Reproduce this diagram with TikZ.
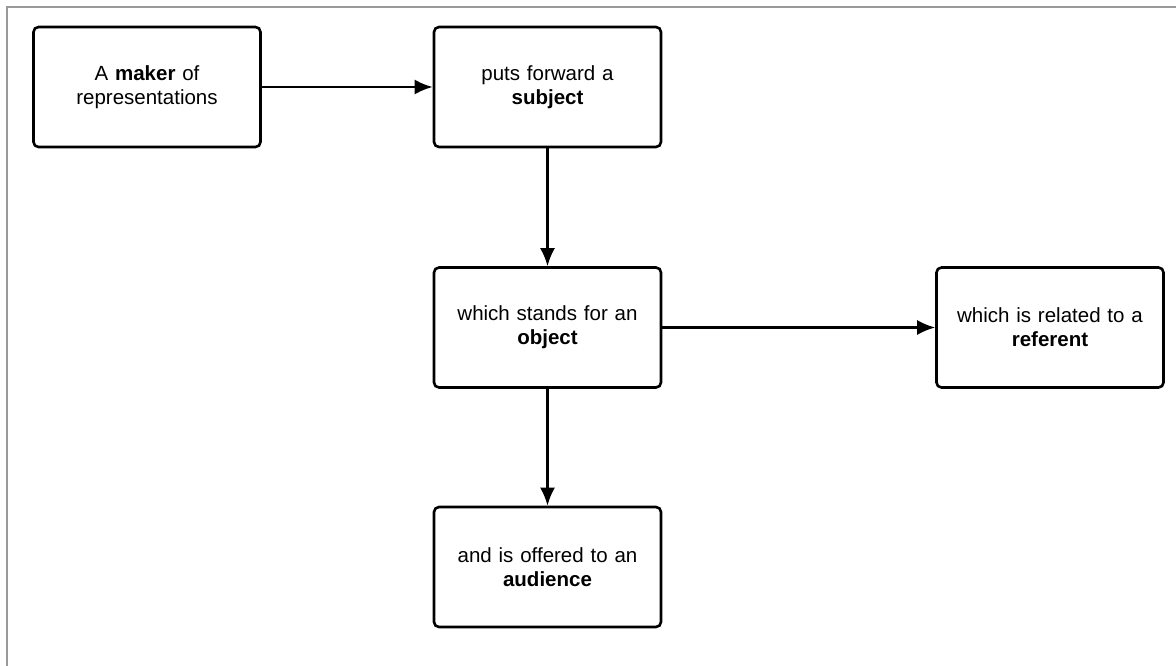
\documentclass[tikz,border=0pt]{standalone}
\usepackage{fontspec}
\setmainfont{Liberation Sans}
\usetikzlibrary{arrows.meta}
\tikzset{
  box/.style={draw,line width=2.6pt,rounded corners=5pt,minimum width=227pt,minimum height=120pt,
    align=center,text width=210pt,font=\fontsize{20.5}{24}\selectfont},
  link/.style={line width=2.4pt,-{Latex[length=18pt,width=15pt]}}
}
\begin{document}
\begin{tikzpicture}[x=1pt,y=-1pt]
  \useasboundingbox (0,0) rectangle (1176,666);
  \draw[gray!80,line width=2pt](7,666)--(7,7)--(1176,7);
  \node[box] (maker) at (147,87){A \textbf{maker} of\\representations};
  \node[box] (subject) at (547.5,87){puts forward a\\\textbf{subject}};
  \node[box] (object) at (547.5,327.5){which stands for an\\\textbf{object}};
  \node[box] (referent) at (1050,327.5){which is related to a\\\textbf{referent}};
  \node[box] (audience) at (547.5,567){and is offered to an\\\textbf{audience}};
  \draw[link](maker)--(subject);
  \draw[link](subject)--(object);
  \draw[link](object)--(referent);
  \draw[link](object)--(audience);
\end{tikzpicture}
\end{document}
